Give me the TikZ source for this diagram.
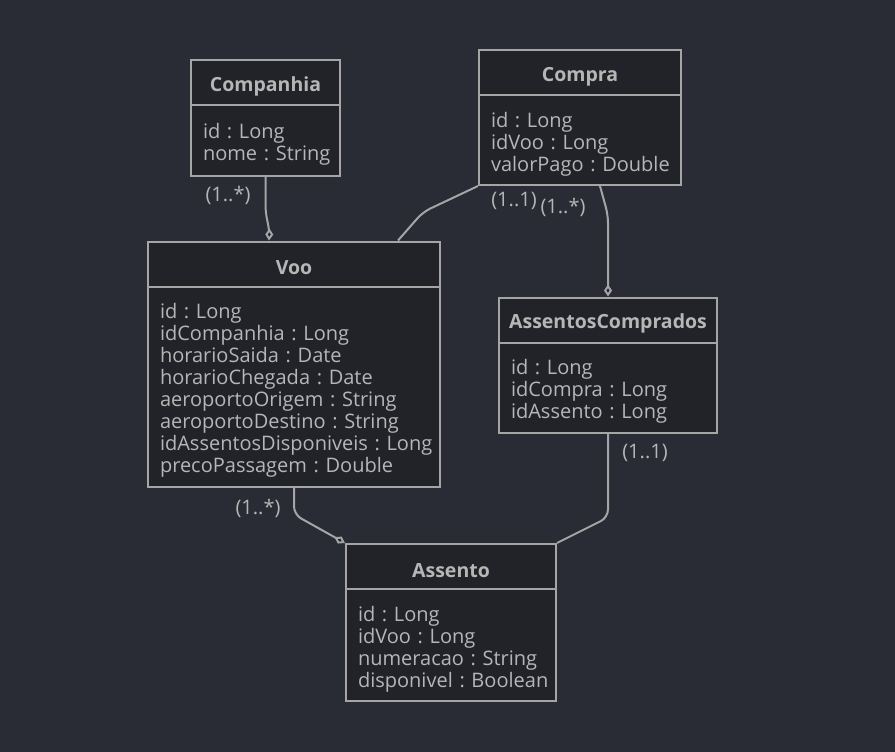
\documentclass[tikz,border=0pt]{standalone}
\usepackage{fontspec}
\setmainfont{Open Sans}
\usetikzlibrary{positioning,calc,arrows.meta}

\definecolor{fundo}{RGB}{41,44,53}
\definecolor{caixa}{RGB}{33,35,41}
\definecolor{linha}{RGB}{165,165,165}
\definecolor{texto}{RGB}{182,182,182}

\tikzstyle{classe} = [draw=linha, fill=caixa, line width=2pt, text=texto,
	minimum height=45pt, font=\fontsize{19.5}{22}\selectfont\bfseries,
	execute at begin node=\rule{0pt}{22pt}]
\tikzstyle{atributos} = [draw=linha, fill=caixa, line width=2pt, text=texto,
	align=left, inner xsep=12pt, inner ysep=0pt, font=\fontsize{20}{22}\selectfont,
	execute at begin node={\hyphenpenalty=10000\rule{0pt}{23pt}}]
\tikzstyle{card} = [text=texto, font=\fontsize{20}{22}\selectfont, inner sep=0pt]
\tikzstyle{assoc} = [draw=linha, line width=2pt, rounded corners=8pt]
\tikzstyle{agreg} = [assoc, -{Diamond[open, length=12pt, width=8pt, fill=caixa]}]

\begin{document}
\frenchspacing
\begin{tikzpicture}[x=1pt,y=-1pt]
\fill[fundo] (0,0) rectangle (895,752);
\useasboundingbox (0,0) rectangle (895,752);

% classes
\node [classe, minimum width=149pt] (companhia) at (265.5,83) {Companhia};
\node [atributos, text width=125pt, minimum height=70pt, below=-2pt of companhia] (companhia-attr)
	{id~:~Long\\nome~:~String};

\node [classe, minimum width=202pt] (compra) at (580,72.5) {Compra};
\node [atributos, text width=178pt, minimum height=90pt, below=-2pt of compra] (compra-attr)
	{id~:~Long\\idVoo~:~Long\\valorPago~:~Double};

\node [classe, minimum width=292pt] (voo) at (294,264) {Voo};
\node [atributos, text width=268pt, minimum height=200pt, below=-2pt of voo] (voo-attr)
	{id~:~Long\\idCompanhia~:~Long\\horarioSaida~:~Date\\horarioChegada~:~Date\\
	aeroportoOrigem~:~String\\aeroportoDestino~:~String\\
	idAssentosDisponiveis~:~Long\\precoPassagem~:~Double};

\node [classe, minimum width=218pt] (comprados) at (608,320) {AssentosComprados};
\node [atributos, text width=194pt, minimum height=90pt, below=-2pt of comprados] (comprados-attr)
	{id~:~Long\\idCompra~:~Long\\idAssento~:~Long};

\node [classe, minimum width=210pt] (assento) at (451,566.5) {Assento};
\node [atributos, text width=186pt, minimum height=112pt, below=-2pt of assento] (assento-attr)
	{id~:~Long\\idVoo~:~Long\\numeracao~:~String\\disponivel~:~Boolean};

% associacoes
\draw [agreg] (companhia-attr.south) -- ++(0,37) -- ++(4,16) -- ($(voo.north)+(-25,0)$);
\draw [assoc] (compra-attr.south west) -- (423,212) -- ($(voo.north)+(104,0)$);
\draw [agreg] ($(compra-attr.south)+(20,0)$) -- ++(8,29) -- (comprados.north);
\draw [agreg] (voo-attr.south) -- ++(0,27) -- (assento.north west);
\draw [assoc] (comprados-attr.south) -- ++(0,84) -- (assento.north east);

% cardinalidades
\node [card] (c1) at (228,195) {(1..*)};
\node [card] (c2) at (514,201) {(1..1)};
\node [card] (c3) at (563,207) {(1..*)};
\node [card] (c4) at (258,508) {(1..*)};
\node [card] (c5) at (645,453) {(1..1)};
\end{tikzpicture}
\end{document}
